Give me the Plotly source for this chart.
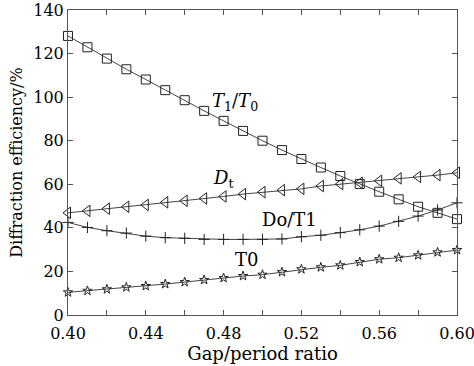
import plotly.graph_objects as go

x = [0.40, 0.41, 0.42, 0.43, 0.44, 0.45, 0.46, 0.47, 0.48, 0.49, 0.50,
     0.51, 0.52, 0.53, 0.54, 0.55, 0.56, 0.57, 0.58, 0.59, 0.60]
t1_t0 = [128.1, 122.9, 117.7, 112.8, 108.1, 103.2, 98.6, 93.7, 89.1, 84.5, 80.0,
         75.7, 71.6, 67.7, 63.8, 60.1, 56.6, 53.1, 49.7, 46.9, 44.0]
dt = [46.9, 47.8, 48.8, 49.7, 50.5, 51.7, 52.4, 53.5, 54.4, 55.5, 56.4,
      57.3, 57.9, 59.2, 60.1, 60.7, 61.6, 62.7, 63.4, 64.2, 65.3]
do_t1 = [42.5, 40.2, 38.7, 37.6, 36.2, 35.5, 35.2, 34.7, 34.7, 34.7, 34.7,
         34.9, 35.9, 36.6, 37.8, 39.1, 40.8, 43.0, 45.4, 48.2, 51.5]
t0 = [10.4, 11.1, 11.8, 12.7, 13.3, 14.2, 15.1, 16.1, 17.0, 17.9, 18.5,
      19.7, 21.0, 21.9, 22.8, 24.3, 25.6, 26.3, 27.4, 28.8, 29.8]

x_tickvals = [0.40, 0.42, 0.44, 0.46, 0.48, 0.50, 0.52, 0.54, 0.56, 0.58, 0.60]
x_ticktext = ["0.40", "", "0.44", "", "0.48", "", "0.52", "", "0.56", "", "0.60"]
y_tickvals = [0, 20, 40, 60, 80, 100, 120, 140]

labels = [
    ("<i>T</i><sub>1</sub>/<i>T</i><sub>0</sub>", 0.486, 98),
    ("<i>D</i><sub>t</sub>", 0.480, 62.5),
    ("Do/T1", 0.5137, 44),
    ("T0", 0.4917, 25.7),
]

FONT = "DejaVu Serif"
line_col = "#444444"
mk_col = "#222222"

fig = go.Figure()
series = [
    (t1_t0, "square-open", 9),
    (dt, "triangle-left-open", 10),
    (do_t1, "cross-thin-open", 8),
    (t0, "star-open", 7),
]
for ys, sym, sz in series:
    fig.add_trace(go.Scatter(
        x=x, y=ys, mode="lines+markers",
        line=dict(color=line_col, width=1),
        marker=dict(symbol=sym, size=sz, color=mk_col, line=dict(color=mk_col, width=1)),
        showlegend=False, cliponaxis=False,
    ))

for txt, lx, ly in labels:
    fig.add_annotation(x=lx, y=ly, xref="x", yref="y", text=txt, showarrow=False,
                       font=dict(family=FONT, size=18, color="black"))

axis_common = dict(
    showline=True, linecolor="#555555", linewidth=1, mirror="ticks",
    ticks="inside", ticklen=5, tickcolor="#555555", showgrid=False, zeroline=False,
    tickfont=dict(family=FONT, size=16, color="black"), automargin=False,
    ticklabeloverflow="allow",
)
fig.update_xaxes(range=[0.40, 0.60], tickvals=x_tickvals, ticktext=x_ticktext,
                 ticklabelstandoff=4,
                 title=dict(text="Gap/period ratio", font=dict(family=FONT, size=18, color="black"), standoff=0),
                 **axis_common)
fig.update_yaxes(range=[0, 140], tickvals=y_tickvals,
                 title=dict(text="Diffraction efficiency/%", font=dict(family=FONT, size=16, color="black"), standoff=6),
                 **axis_common)
fig.update_layout(
    width=474, height=366,
    margin=dict(l=68, r=17, t=10, b=51),
    plot_bgcolor="white", paper_bgcolor="white",
)
fig.write_html("out.html", config={"displayModeBar": False},
               post_script="document.body.style.margin='0px';")
